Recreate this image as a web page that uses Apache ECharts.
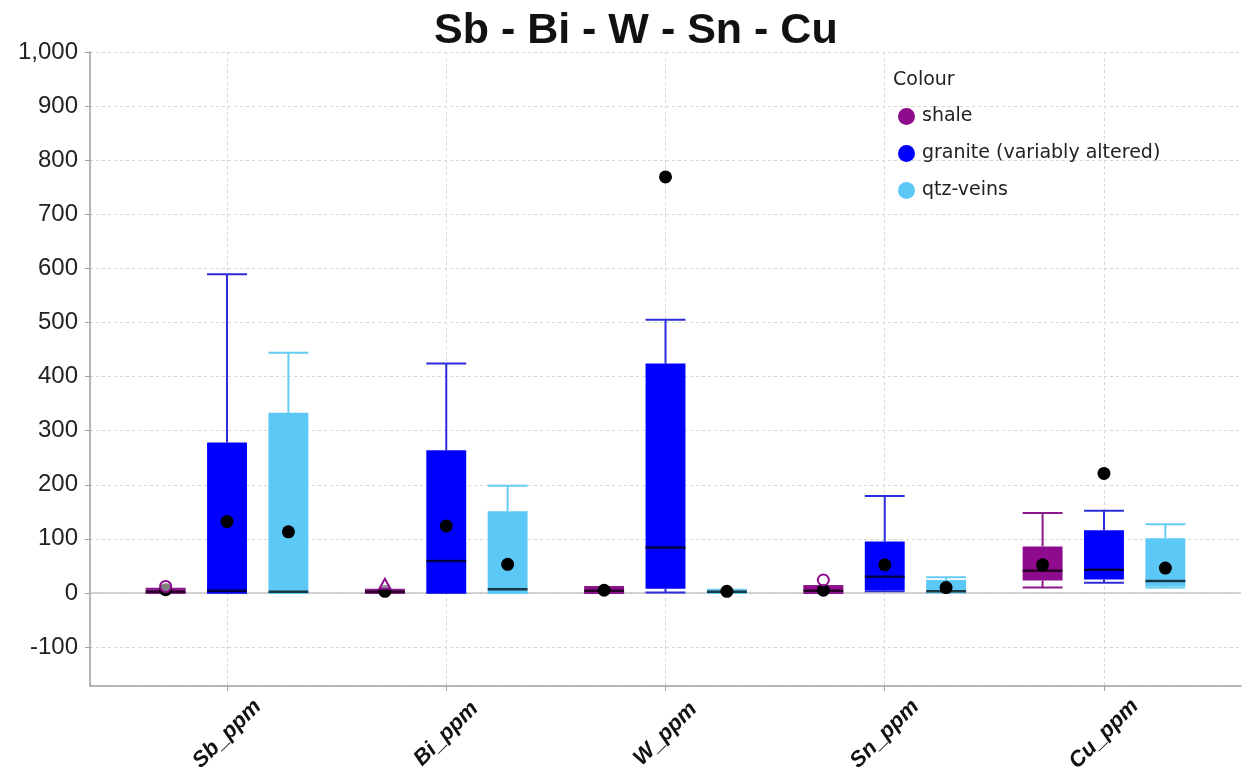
<!DOCTYPE html>
<html><head><meta charset="utf-8">
<script src="https://cdn.jsdelivr.net/npm/echarts@6/dist/echarts.min.js"></script>
<style>html,body{margin:0;padding:0;background:#fff}#c{width:1244px;height:777px}</style>
</head><body><div id="c"></div>
<script>
const categories = ['Sb_ppm', 'Bi_ppm', 'W_ppm', 'Sn_ppm', 'Cu_ppm'];
const seriesNames = ['shale', 'granite (variably altered)', 'qtz-veins'];
// rows per category: [low whisker, Q1, median, Q3, high whisker, mean]
const shaleStats = [
  [0, 1, 2, 7, 8, 6],
  [0, 0, 2, 5, 6, 3],
  [0, 1, 4, 10, 11, 5],
  [0, 1, 4, 12, 13, 5],
  [10, 23, 41, 86, 148, 52]
];
const graniteStats = [
  [0, 0, 4, 278, 589, 132],
  [0, 0, 59, 264, 424, 124],
  [1, 8, 84, 424, 505, 769],
  [3, 5, 30, 95, 179, 52],
  [19, 25, 43, 116, 152, 221]
];
const qtzStats = [
  [0, 0, 2, 333, 444, 113],
  [0, 0, 7, 151, 198, 53],
  [0, 0, 2, 5, 6, 3],
  [1, 2, 3, 24, 29, 10],
  [10, 12, 22, 101, 127, 46]
];
// [category index, value]
const shaleOutlierCircles = [[0, 12], [3, 24]];
const shaleOutlierTriangles = [[1, 15]];

const BOX_W = 0.182;
const OFFSETS = [-0.28, 0, 0.28];
const COLORS = ['#8e0b8e', '#0000ff', '#5cc8f6'];
const WHISKER = ['#8a1a8a', '#2c2cdc', '#66ccf4'];

function boxRender(offset, fill, wcol) {
  return function (params, api) {
    const x = api.value(0) + offset;
    const lo = api.coord([x, api.value(1)]);
    const q1 = api.coord([x, api.value(2)]);
    const md = api.coord([x, api.value(3)]);
    const q3 = api.coord([x, api.value(4)]);
    const hi = api.coord([x, api.value(5)]);
    const mn = api.coord([x, api.value(6)]);
    const w = api.size([BOX_W, 0])[0];
    const h = w / 2;
    const cx = lo[0];
    const ws = { stroke: wcol, lineWidth: 2 };
    return {
      type: 'group',
      children: [
        { type: 'line', shape: { x1: cx, y1: hi[1], x2: cx, y2: q3[1] }, style: ws },
        { type: 'line', shape: { x1: cx, y1: q1[1], x2: cx, y2: lo[1] }, style: ws },
        { type: 'line', shape: { x1: cx - h, y1: hi[1], x2: cx + h, y2: hi[1] }, style: ws },
        { type: 'line', shape: { x1: cx - h, y1: lo[1], x2: cx + h, y2: lo[1] }, style: ws },
        { type: 'rect', shape: { x: cx - h, y: q3[1], width: w, height: Math.max(q1[1] - q3[1], 2) }, style: { fill: fill } },
        { type: 'line', shape: { x1: cx - h, y1: md[1], x2: cx + h, y2: md[1] }, style: { stroke: 'rgba(0,0,0,0.72)', lineWidth: 2.5 } },
        { type: 'circle', shape: { cx: cx, cy: mn[1], r: 6.5 }, style: { fill: '#000' } }
      ]
    };
  };
}

function outlierRender(offset, color, shape) {
  return function (params, api) {
    const p = api.coord([api.value(0) + offset, api.value(1)]);
    if (shape === 'triangle') {
      return { type: 'polygon', shape: { points: [[p[0], p[1] - 6], [p[0] + 5.5, p[1] + 4], [p[0] - 5.5, p[1] + 4]] },
        style: { fill: 'rgba(255,255,255,0.6)', stroke: color, lineWidth: 2 } };
    }
    return { type: 'circle', shape: { cx: p[0], cy: p[1], r: 5.5 },
      style: { fill: 'rgba(255,255,255,0.5)', stroke: color, lineWidth: 2 } };
  };
}

const statsList = [shaleStats, graniteStats, qtzStats];
const series = statsList.map((stats, k) => ({
  type: 'custom',
  name: seriesNames[k],
  z: 3,
  itemStyle: { color: COLORS[k] },
  encode: { x: 0, y: [1, 2, 3, 4, 5, 6] },
  data: stats.map((r, i) => [i].concat(r)),
  renderItem: boxRender(OFFSETS[k], COLORS[k], WHISKER[k])
}));
series.push({
  type: 'custom', name: 'shale outliers', z: 4,
  encode: { x: 0, y: 1 },
  data: shaleOutlierCircles,
  renderItem: outlierRender(OFFSETS[0], COLORS[0], 'circle')
});
series.push({
  type: 'custom', name: 'shale outliers 2', z: 4,
  encode: { x: 0, y: 1 },
  data: shaleOutlierTriangles,
  renderItem: outlierRender(OFFSETS[0], COLORS[0], 'triangle'),
  markLine: {
    silent: true, symbol: 'none', z: 1,
    label: { show: false },
    lineStyle: { color: '#c4c4c4', width: 1.5, type: 'solid' },
    data: [{ yAxis: 0 }]
  }
});

const chart = echarts.init(document.getElementById('c'));
chart.setOption({
  animation: false,
  backgroundColor: '#fff',
  title: [
    { text: 'Sb - Bi - W - Sn - Cu', left: 434, top: 10, padding: 0,
      textStyle: { fontSize: 43, fontWeight: 'bold', fontFamily: 'Liberation Sans', color: '#111' } },
    { text: 'Colour', left: 893, top: 71, padding: 0,
      textStyle: { fontSize: 19, fontWeight: 'normal', fontFamily: 'DejaVu Sans', color: '#222' } }
  ],
  legend: {
    data: seriesNames, orient: 'vertical', left: 893, top: 102,
    itemWidth: 21, itemHeight: 17, itemGap: 18, icon: 'circle',
    textStyle: { fontFamily: 'DejaVu Sans', fontSize: 19, lineHeight: 17, color: '#222' }
  },
  grid: { left: 90, right: 3, top: 52, bottom: 91, containLabel: false },
  xAxis: {
    type: 'value', min: -0.625, max: 4.625, minInterval: 1, maxInterval: 1,
    axisLine: { show: true, onZero: false, lineStyle: { color: '#a0a0a0', width: 1.5 } },
    axisTick: { show: true, length: 5, lineStyle: { color: '#a0a0a0' } },
    splitLine: { show: true, showMaxLine: false, lineStyle: { color: '#d6d6d6', type: [3, 3], width: 1 } },
    axisLabel: {
      showMinLabel: false, showMaxLabel: false,
      rotate: 45, align: 'center', verticalAlign: 'middle', margin: 48,
      fontFamily: 'Liberation Sans', fontSize: 22, fontWeight: 'bold', fontStyle: 'italic', color: '#111',
      formatter: v => (Number.isInteger(v) && categories[v]) ? categories[v] : ''
    }
  },
  yAxis: {
    type: 'value', min: -172, max: 1000, minInterval: 100, maxInterval: 100,
    axisLine: { show: true, onZero: false, lineStyle: { color: '#a0a0a0', width: 1.5 } },
    axisTick: { show: true, length: 5, lineStyle: { color: '#a0a0a0' } },
    splitLine: { show: true, lineStyle: { color: '#d6d6d6', type: [3, 3], width: 1 } },
    axisLabel: {
      showMinLabel: false, margin: 12,
      fontFamily: 'Liberation Sans', fontSize: 24, color: '#222',
      formatter: v => (v % 100 === 0) ? v.toLocaleString('en-US') : ''
    }
  },
  series: series
});
</script></body></html>
